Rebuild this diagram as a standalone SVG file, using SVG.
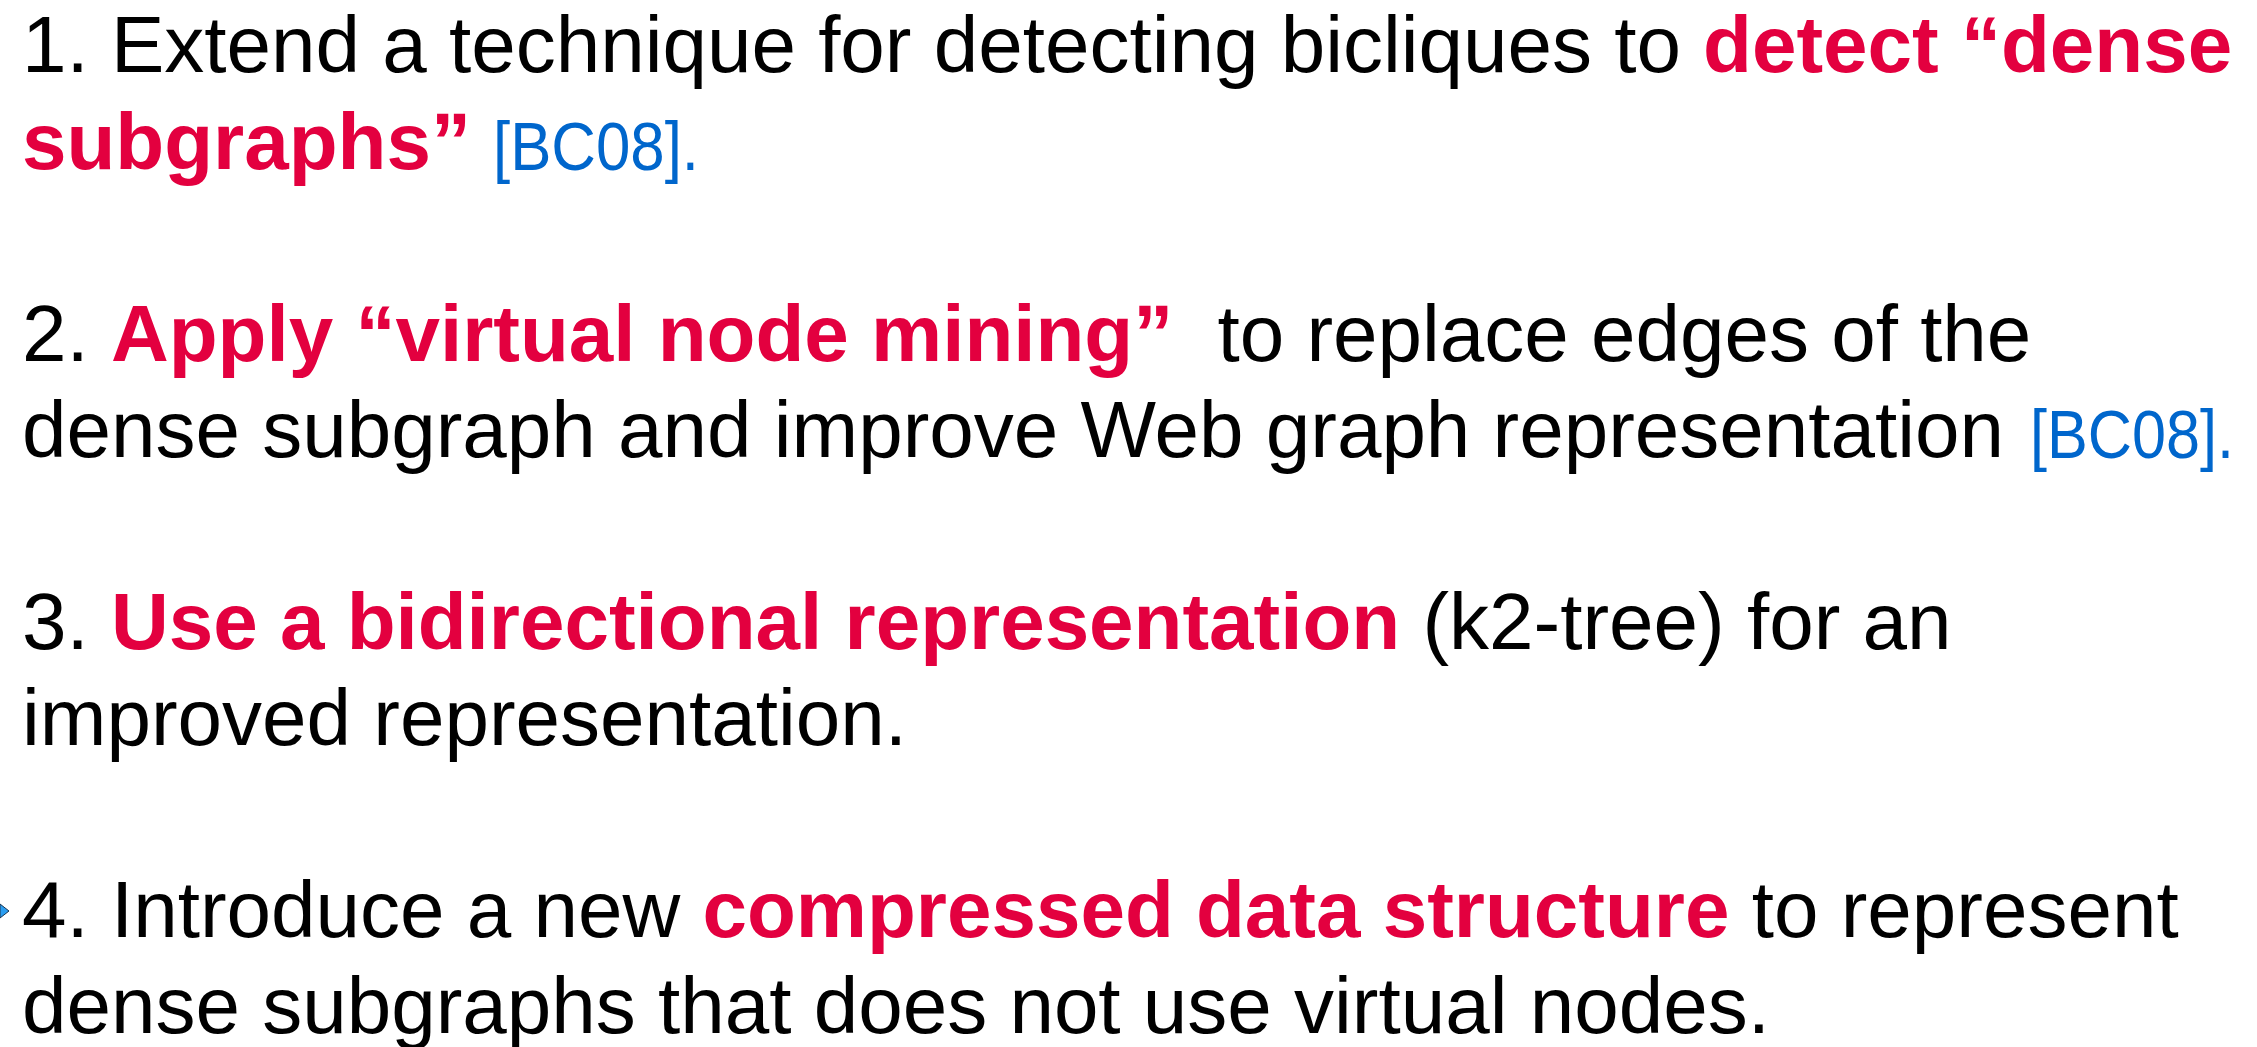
<svg xmlns="http://www.w3.org/2000/svg" width="2257" height="1047" viewBox="0 0 2257 1047">
<style>
text{font-family:"Liberation Sans",Arial,Helvetica,sans-serif;font-size:80px;fill:#000}
.r{font-weight:bold;fill:#E3003F}
.c{font-size:68px;fill:#0066CC}
</style>
<rect width="2257" height="1047" fill="#fff"/>
<g id="item1">
<text x="22" y="72">1. Extend a technique for detecting bicliques to <tspan class="r">detect “dense</tspan></text>
<text x="22" y="169"><tspan class="r">subgraphs”</tspan></text>
<text class="c" x="493" y="170" textLength="206" lengthAdjust="spacingAndGlyphs">[BC08].</text>
</g>
<g id="item2">
<text x="22" y="361">2. <tspan class="r">Apply “virtual node mining”</tspan><tspan dx="22"> to replace edges of the</tspan></text>
<text x="22" y="457">dense subgraph and improve Web graph representation</text>
<text class="c" x="2030" y="458" textLength="204" lengthAdjust="spacingAndGlyphs">[BC08].</text>
</g>
<g id="item3">
<text x="22" y="649">3. <tspan class="r">Use a bidirectional representation</tspan> (k2-tree) for an</text>
<text x="22" y="745">improved representation.</text>
</g>
<g id="item4">
<polygon points="0,904 9,911 0,918" fill="#2A9DF0" stroke="#1a3550" stroke-width="1"/>
<text x="22" y="937">4. Introduce a new <tspan class="r">compressed data structure</tspan> to represent</text>
<text x="22" y="1033">dense subgraphs that does not use virtual nodes.</text>
</g>
<g id="connectors"></g>
</svg>
